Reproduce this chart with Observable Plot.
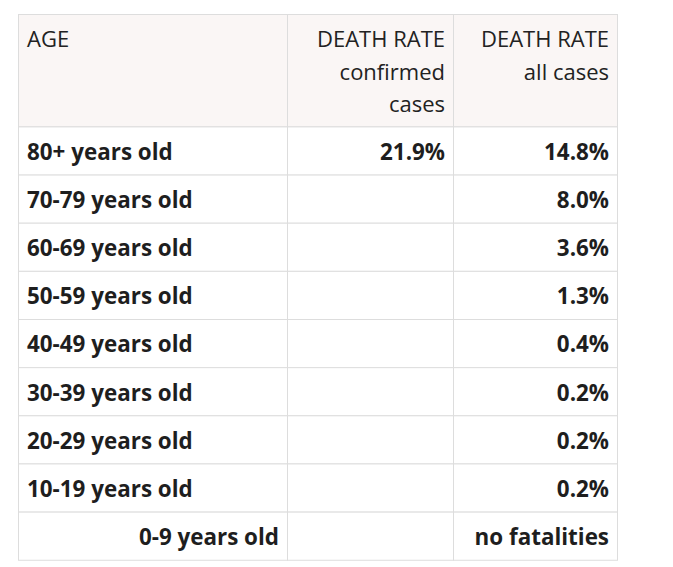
<!DOCTYPE html>
<html>
<head>
<meta charset="utf-8">
<script src="https://cdn.jsdelivr.net/npm/d3@7"></script>
<script src="https://cdn.jsdelivr.net/npm/@observablehq/plot@0.6"></script>
<style>
  html, body { margin: 0; padding: 0; background: #ffffff; }
  svg { display: block; }
</style>
</head>
<body>
<div id="chart"></div>
<script>
// ---- data ----
const headerAge = ["AGE"];
const headerConfirmed = ["DEATH RATE", "confirmed", "cases"];
const headerAll = ["DEATH RATE", "all cases"];
const ages = ["80+ years old", "70-79 years old", "60-69 years old", "50-59 years old",
  "40-49 years old", "30-39 years old", "20-29 years old", "10-19 years old", "0-9 years old"];
const confirmedRate = [21.9, null, null, null, null, null, null, null, null];
const allCasesRate = [14.8, 8.0, 3.6, 1.3, 0.4, 0.2, 0.2, 0.2, null];
const noneLabel = "no fatalities";

// ---- layout ----
const colW = [269, 166, 164];
const headerH = 112.4;
const rowH = 48.15;
const padL = 8, padR = 9, baseOff = 32.4, lineStep = 32.1;
const colEdges = [0];
colW.forEach(w => colEdges.push(colEdges[colEdges.length - 1] + w));
const rowEdges = [0, headerH];
ages.forEach(() => rowEdges.push(rowEdges[rowEdges.length - 1] + rowH));
const totalW = colEdges[3], totalH = rowEdges[rowEdges.length - 1];

// cells
const cells = [];
for (let r = 0; r < rowEdges.length - 1; r++) {
  for (let c = 0; c < 3; c++) {
    cells.push({x1: colEdges[c], x2: colEdges[c + 1], y1: rowEdges[r], y2: rowEdges[r + 1], header: r === 0});
  }
}

// header texts
const headerTexts = [];
[headerAge, headerConfirmed, headerAll].forEach((lines, c) => {
  lines.forEach((t, i) => headerTexts.push({
    text: t,
    x: c === 0 ? colEdges[c] + padL : colEdges[c + 1] - padR,
    anchor: c === 0 ? "start" : "end",
    y: rowEdges[0] + baseOff + i * lineStep
  }));
});

// body texts
const fmt = v => v.toFixed(1) + "%";
const bodyTexts = [];
ages.forEach((a, i) => {
  const top = rowEdges[i + 1];
  const last = i === ages.length - 1;
  bodyTexts.push({text: a, x: last ? colEdges[1] - padR : colEdges[0] + padL, anchor: last ? "end" : "start", y: top + baseOff});
  if (confirmedRate[i] != null) bodyTexts.push({text: fmt(confirmedRate[i]), x: colEdges[2] - padR, anchor: "end", y: top + baseOff});
  bodyTexts.push({text: allCasesRate[i] != null ? fmt(allCasesRate[i]) : noneLabel, x: colEdges[3] - padR, anchor: "end", y: top + baseOff});
});

const font = "'Open Sans', 'Noto Sans', sans-serif";

const chart = Plot.plot({
  width: 673,
  height: 567,
  margin: 0,
  x: {type: "linear", domain: [0, totalW], range: [18.5, 18.5 + totalW], axis: null},
  y: {type: "linear", domain: [0, totalH], range: [14.5, 14.5 + totalH], axis: null},
  style: {fontFamily: font, background: "#ffffff"},
  marks: [
    Plot.rect(cells, {x1: "x1", x2: "x2", y1: "y1", y2: "y2",
      fill: d => d.header ? "#faf6f5" : "#ffffff", stroke: "#dddddd", strokeWidth: 1}),
    ...["start", "end"].map(anc => Plot.text(headerTexts.filter(d => d.anchor === anc), {
      x: "x", y: "y", text: "text", textAnchor: anc, lineAnchor: "bottom",
      fontSize: 22, fill: "#222222", fontWeight: 400
    })),
    ...["start", "end"].map(anc => Plot.text(bodyTexts.filter(d => d.anchor === anc), {
      x: "x", y: "y", text: "text", textAnchor: anc, lineAnchor: "bottom",
      fontSize: 22.4, fill: "#1e1e1e", fontWeight: 700
    }))
  ]
});
document.getElementById("chart").appendChild(chart);
</script>
</body>
</html>
